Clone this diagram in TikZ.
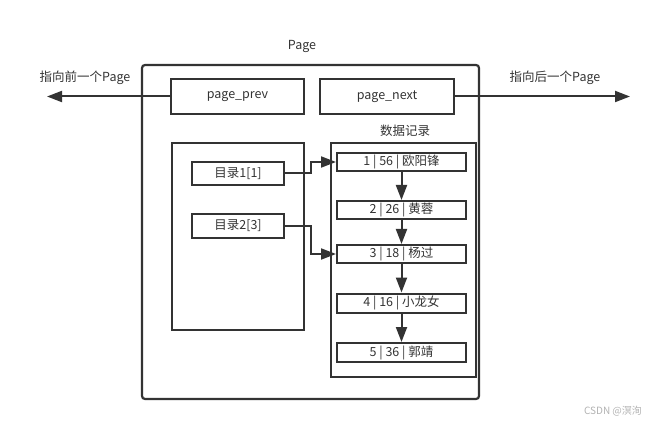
\documentclass[tikz,border=0pt]{standalone}
\usepackage{fontspec}
\setmainfont{Noto Sans CJK SC}
\usetikzlibrary{arrows.meta}
\definecolor{ink}{HTML}{333333}
\tikzset{
  box/.style={draw=ink, line width=2pt, text=ink, font=\fontsize{12.5}{15}\selectfont, inner sep=0pt},
  rec/.style={box, minimum width=129pt, minimum height=18pt},
  lbl/.style={text=ink, font=\fontsize{12.5}{15}\selectfont, inner sep=0pt},
  arr/.style={draw=ink, line width=2pt, -{Triangle[length=15pt,width=11pt]}}
}
\begin{document}
\begin{tikzpicture}[x=1pt,y=-1pt]
\useasboundingbox (0,0) rectangle (654,425);
\node[box, rounded corners=3pt, line width=2.2pt, minimum width=337pt, minimum height=334pt] (page) at (310.5,232) {};
\node[lbl] (pagelbl) at (302,46) {Page};
\node[box, minimum width=133pt, minimum height=35pt] (prev) at (237.5,96.5) {page\_prev};
\node[box, minimum width=134pt, minimum height=35pt] (next) at (387,96.5) {page\_next};
\coordinate (lt) at (47,96.5);
\coordinate (rt) at (630,96.5);
\draw[arr] (prev.west) -- (lt);
\draw[arr] (next.east) -- (rt);
\node[lbl] (plbl) at (85,78) {指向前一个Page};
\node[lbl] (nlbl) at (555,78) {指向后一个Page};
\node[box, minimum width=132pt, minimum height=187pt] (dir) at (238,236.5) {};
\node[box, minimum width=92pt, minimum height=23pt] (d1) at (238,173.5) {目录1[1]};
\node[box, minimum width=92pt, minimum height=24pt] (d2) at (238,226) {目录2[3]};
\node[box, minimum width=145pt, minimum height=234pt] (data) at (403.5,260) {};
\node[lbl] (datalbl) at (405,131) {数据记录};
\node[rec] (r1) at (401.5,162) {1 | 56 | 欧阳锋};
\node[rec] (r2) at (401.5,210) {2 | 26 | 黄蓉};
\node[rec] (r3) at (401.5,254) {3 | 18 | 杨过};
\node[rec, minimum height=19pt] (r4) at (401.5,303) {4 | 16 | 小龙女};
\node[rec, minimum height=19pt] (r5) at (401.5,352.5) {5 | 36 | 郭靖};
\draw[arr] (r1.south) -- (r2.north);
\draw[arr] (r2.south) -- (r3.north);
\draw[arr] (r3.south) -- (r4.north);
\draw[arr] (r4.south) -- (r5.north);
\draw[arr] (d1.east) -- ([xshift=26pt]d1.east) |- (r1.west);
\draw[arr] (d2.east) -- ([xshift=26pt]d2.east) |- (r3.west);
\node[text=black!30, font=\fontsize{10}{12}\selectfont, inner sep=0pt] (wm) at (613,411) {CSDN @溟洵};
\end{tikzpicture}
\end{document}
